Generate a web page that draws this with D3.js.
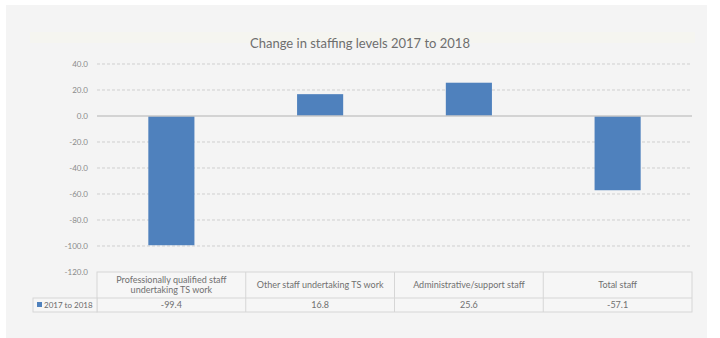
<!DOCTYPE html>
<html>
<head>
<meta charset="utf-8">
<script src="https://cdn.jsdelivr.net/npm/d3@7"></script>
<style>
  html, body { margin: 0; padding: 0; background: #ffffff; }
  svg { display: block; }
</style>
</head>
<body>
<svg id="chart" width="720" height="338"></svg>
<script>
const categories = [
  ["Professionally qualified staff", "undertaking TS work"],
  ["Other staff undertaking TS work"],
  ["Administrative/support staff"],
  ["Total staff"]
];
const seriesName = "2017 to 2018";
const values = [-99.4, 16.8, 25.6, -57.1];
const valueLabels = ["-99.4", "16.8", "25.6", "-57.1"];
const yTicks = [40, 20, 0, -20, -40, -60, -80, -100, -120];
const title = "Change in staffing levels 2017 to 2018";

const svg = d3.select("#chart");
const font = "Lato, 'Open Sans', sans-serif";

// background panel
svg.append("rect").attr("x", 6).attr("y", 5).attr("width", 701).attr("height", 333).attr("fill", "#f4f4f4");
svg.append("rect").attr("x", 30).attr("y", 32).attr("width", 665).attr("height", 11).attr("fill", "#f5f5f0");

const left = 97, right = 692;
const y = d3.scaleLinear().domain([-120, 40]).range([272, 64]);
const keys = categories.map((c, i) => "c" + i);
const x = d3.scaleBand().domain(keys).range([left, right]).paddingInner(0.69).paddingOuter(0.345);

// y axis labels
const yAxis = d3.axisLeft(y).tickValues(yTicks).tickSize(0).tickPadding(9).tickFormat(d => d.toFixed(1));
const gAxis = svg.append("g").attr("transform", `translate(${left},0)`).call(yAxis);
gAxis.select(".domain").remove();
gAxis.selectAll("text").attr("fill", "#8a8a8a").style("font-family", font).style("font-size", "8px");

// gridlines
svg.append("g").selectAll("line").data(yTicks.filter(t => t !== 0 && t !== -120)).join("line")
  .attr("x1", left).attr("x2", right)
  .attr("y1", d => y(d)).attr("y2", d => y(d))
  .attr("stroke", "#cfcfcf").attr("stroke-width", 1).attr("stroke-dasharray", "3,2");

// bars
svg.append("g").selectAll("rect").data(values).join("rect")
  .attr("x", (d, i) => x(keys[i]))
  .attr("width", x.bandwidth())
  .attr("y", d => y(Math.max(0, d)))
  .attr("height", d => Math.abs(y(d) - y(0)))
  .attr("fill", "#4f81bd");

// zero line
svg.append("line").attr("x1", left).attr("x2", right).attr("y1", y(0)).attr("y2", y(0))
  .attr("stroke", "#c8c8c8").attr("stroke-width", 1.5);

// title
svg.append("text").attr("x", 360).attr("y", 48).attr("text-anchor", "middle")
  .attr("fill", "#6e6e6e").style("font-family", font).style("font-size", "13px")
  .text(title);

// data table
const tTop = y(-120), r1 = 298, r2 = 312, legLeft = 33;
const tg = svg.append("g").attr("stroke", "#d6d6d6").attr("stroke-width", 1).attr("fill", "none");
tg.append("rect").attr("x", left).attr("y", tTop).attr("width", right - left).attr("height", r2 - tTop).attr("fill", "#f6f6f6");
tg.append("rect").attr("x", legLeft).attr("y", r1).attr("width", left - legLeft).attr("height", r2 - r1).attr("fill", "#f6f6f6");
tg.append("line").attr("x1", left).attr("x2", right).attr("y1", r1).attr("y2", r1);
keys.slice(1).forEach(k => {
  const bx = x(k) - x.step() * x.paddingInner() / 2;
  tg.append("line").attr("x1", bx).attr("x2", bx).attr("y1", tTop).attr("y2", r2);
});

const tfs = "9px";
const cx = k => x(k) + x.bandwidth() / 2;
categories.forEach((lines, i) => {
  const mid = (tTop + r1) / 2;
  const lh = 10.5;
  lines.forEach((ln, j) => {
    svg.append("text").attr("x", cx(keys[i]))
      .attr("y", mid + (j - (lines.length - 1) / 2) * lh + 3.2)
      .attr("text-anchor", "middle").attr("fill", "#707070")
      .style("font-family", font).style("font-size", tfs).text(ln);
  });
  svg.append("text").attr("x", cx(keys[i])).attr("y", (r1 + r2) / 2 + 3.2)
    .attr("text-anchor", "middle").attr("fill", "#707070")
    .style("font-family", font).style("font-size", tfs).text(valueLabels[i]);
});

svg.append("rect").attr("x", 37).attr("y", 302).attr("width", 5).attr("height", 5).attr("fill", "#4f81bd");
svg.append("text").attr("x", 44).attr("y", (r1 + r2) / 2 + 3)
  .attr("fill", "#6a6a6a").style("font-family", font).style("font-size", "8px").text(seriesName);
</script>
</body>
</html>
